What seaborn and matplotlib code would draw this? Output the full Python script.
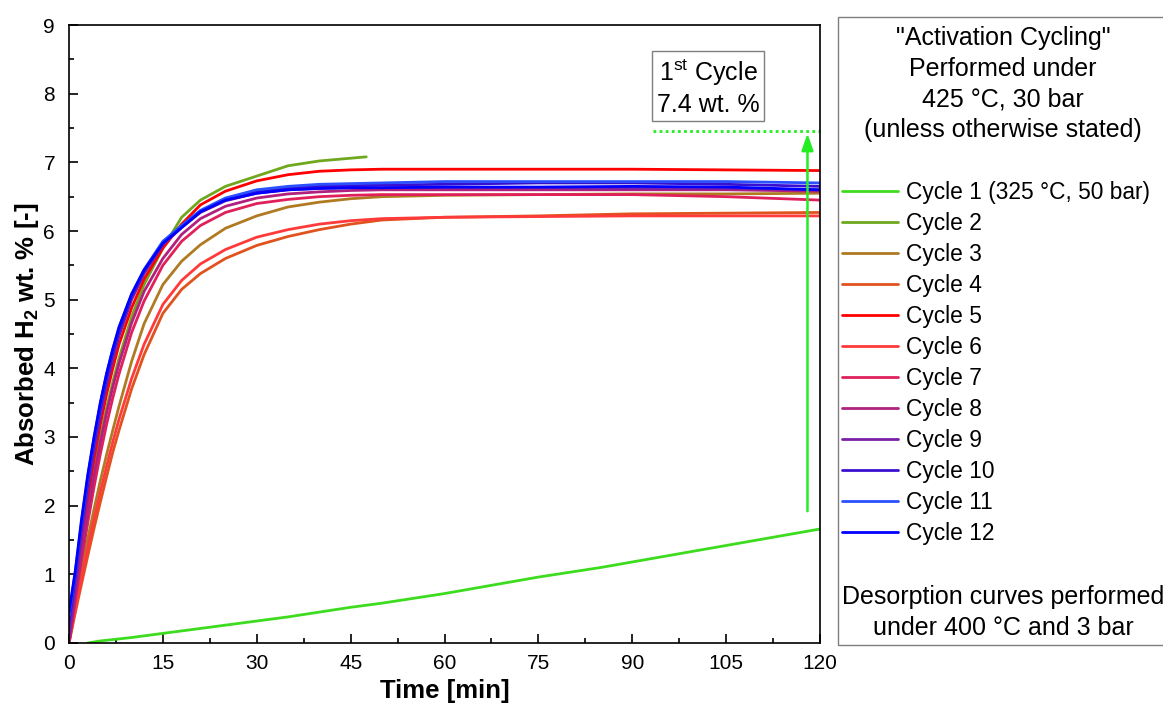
import numpy as np
import pandas as pd
import matplotlib
matplotlib.use("Agg")
import matplotlib.pyplot as plt
from matplotlib.patches import Rectangle
from matplotlib.ticker import MultipleLocator
import seaborn as sns

# ---------------- data ----------------
t_main = [0, 1, 2, 3, 4, 5, 6, 7, 8, 10, 12, 15, 18, 21, 25, 30, 35, 40, 45, 50, 60, 75, 90, 105, 120]

cycle1_t = [3, 5, 10, 15, 20, 25, 30, 35, 40, 45, 50, 55, 60, 65, 70, 75, 80, 85, 90, 95, 100, 105, 110, 115, 120]
cycle1_y = [0.0, 0.03, 0.08, 0.14, 0.2, 0.26, 0.32, 0.38, 0.45, 0.52, 0.58, 0.65, 0.72, 0.8, 0.88, 0.96,
            1.03, 1.1, 1.18, 1.26, 1.34, 1.42, 1.5, 1.58, 1.66]

cycle2_t = [0, 1, 2, 3, 4, 5, 6, 7, 8, 10, 12, 15, 18, 21, 25, 30, 35, 40, 45, 47.5]
cycle2_y = [0, 0.72, 1.38, 1.98, 2.52, 3.0, 3.42, 3.8, 4.15, 4.75, 5.22, 5.75, 6.2, 6.45, 6.65, 6.8,
            6.95, 7.02, 7.06, 7.08]

cycle3_y = [0, 0.55, 1.05, 1.52, 1.95, 2.36, 2.74, 3.1, 3.45, 4.1, 4.65, 5.22, 5.56, 5.8, 6.04, 6.22,
            6.35, 6.42, 6.47, 6.5, 6.52, 6.53, 6.54, 6.54, 6.55]
cycle4_y = [0, 0.44, 0.86, 1.27, 1.67, 2.05, 2.42, 2.78, 3.1, 3.7, 4.2, 4.8, 5.15, 5.38, 5.6, 5.79,
            5.92, 6.02, 6.1, 6.16, 6.2, 6.22, 6.25, 6.26, 6.27]
cycle5_y = [0, 0.76, 1.46, 2.1, 2.68, 3.18, 3.62, 4.0, 4.35, 4.88, 5.3, 5.75, 6.1, 6.38, 6.58, 6.73,
            6.82, 6.87, 6.89, 6.9, 6.9, 6.9, 6.9, 6.89, 6.88]
cycle6_y = [0, 0.48, 0.94, 1.38, 1.8, 2.2, 2.57, 2.93, 3.26, 3.85, 4.35, 4.93, 5.28, 5.52, 5.73, 5.91,
            6.02, 6.1, 6.15, 6.18, 6.2, 6.21, 6.22, 6.22, 6.22]
cycle7_y = [0, 0.62, 1.2, 1.75, 2.27, 2.75, 3.18, 3.57, 3.92, 4.52, 4.98, 5.5, 5.85, 6.08, 6.27, 6.4,
            6.46, 6.5, 6.52, 6.53, 6.53, 6.53, 6.53, 6.5, 6.45]
cycle8_y = [0, 0.68, 1.32, 1.9, 2.44, 2.92, 3.35, 3.73, 4.07, 4.66, 5.12, 5.6, 5.95, 6.18, 6.36, 6.48,
            6.54, 6.57, 6.59, 6.6, 6.6, 6.6, 6.6, 6.6, 6.58]
cycle9_y = [0.1, 0.85, 1.58, 2.22, 2.8, 3.3, 3.75, 4.13, 4.47, 5.0, 5.38, 5.8, 6.05, 6.27, 6.44, 6.55,
            6.6, 6.62, 6.63, 6.63, 6.63, 6.63, 6.62, 6.62, 6.6]
cycle10_y = [0.3, 0.98, 1.7, 2.35, 2.92, 3.42, 3.86, 4.23, 4.55, 5.05, 5.42, 5.83, 6.07, 6.28, 6.46, 6.57,
             6.62, 6.65, 6.66, 6.67, 6.68, 6.7, 6.7, 6.68, 6.65]
cycle11_y = [0.4, 1.02, 1.76, 2.42, 2.98, 3.48, 3.92, 4.28, 4.6, 5.08, 5.44, 5.85, 6.08, 6.3, 6.48, 6.6,
             6.65, 6.68, 6.69, 6.7, 6.72, 6.72, 6.72, 6.72, 6.7]
cycle12_y = [0.45, 1.05, 1.8, 2.45, 3.0, 3.5, 3.92, 4.28, 4.6, 5.08, 5.43, 5.82, 6.05, 6.28, 6.45, 6.55,
             6.6, 6.62, 6.63, 6.63, 6.64, 6.64, 6.65, 6.64, 6.6]

labels = ["Cycle 1 (325 °C, 50 bar)", "Cycle 2", "Cycle 3", "Cycle 4", "Cycle 5", "Cycle 6",
          "Cycle 7", "Cycle 8", "Cycle 9", "Cycle 10", "Cycle 11", "Cycle 12"]
colors = ["#3ddc1e", "#6fa81e", "#b07a22", "#e0521e", "#ff0000", "#ff3a3a",
          "#e0205a", "#b0207e", "#7a1fa8", "#3a10d0", "#2a50ff", "#0000ff"]

series_t = [cycle1_t, cycle2_t] + [t_main] * 10
series_y = [cycle1_y, cycle2_y, cycle3_y, cycle4_y, cycle5_y, cycle6_y, cycle7_y,
            cycle8_y, cycle9_y, cycle10_y, cycle11_y, cycle12_y]

first_cycle_value = 7.45
first_cycle_line_start = 93.3
arrow_x = 118.0
arrow_y0 = 1.92

# ---------------- style ----------------
sns.set_style("ticks")
plt.rcParams["font.family"] = ["Liberation Sans", "DejaVu Sans"]
plt.rcParams["mathtext.fontset"] = "custom"
plt.rcParams["mathtext.rm"] = "Liberation Sans"
plt.rcParams["mathtext.it"] = "Liberation Sans"
plt.rcParams["mathtext.bf"] = "Liberation Sans:bold"
plt.rcParams["mathtext.default"] = "regular"
plt.rcParams["text.color"] = "black"
plt.rcParams["axes.labelcolor"] = "black"
plt.rcParams["xtick.color"] = "black"
plt.rcParams["ytick.color"] = "black"

W, H = 1163, 708
fig = plt.figure(figsize=(W / 100, H / 100), dpi=100)
ax = fig.add_axes([69 / W, 1 - 643 / H, (820 - 69) / W, (643 - 25) / H])

for tt, yy, lab, col in zip(series_t, series_y, labels, colors):
    df = pd.DataFrame({"Time": tt, "wt": yy})
    sns.lineplot(data=df, x="Time", y="wt", color=col, lw=2.0, label=lab, ax=ax,
                 estimator=None, sort=False)

handles, labs = ax.get_legend_handles_labels()
if ax.get_legend() is not None:
    ax.get_legend().remove()

ax.set_xlim(0, 120)
ax.set_ylim(0, 9)
ax.xaxis.set_major_locator(MultipleLocator(15))
ax.xaxis.set_minor_locator(MultipleLocator(7.5))
ax.yaxis.set_major_locator(MultipleLocator(1))
ax.yaxis.set_minor_locator(MultipleLocator(0.5))
ax.tick_params(which="both", direction="in", width=1.2, colors="black", labelcolor="black", labelsize=15)
ax.tick_params(which="major", length=6.5)
ax.tick_params(which="minor", length=3.6)
ax.tick_params(axis="x", pad=8)
ax.tick_params(axis="y", pad=10)
for s in ax.spines.values():
    s.set_visible(True)
    s.set_linewidth(1.2)
    s.set_color("black")

ax.set_xlabel("Time [min]", fontsize=18.5, fontweight="bold", labelpad=4, color="black")
ax.set_ylabel(r"Absorbed H$_\mathbf{2}$ wt. % [-]", fontsize=18.5, fontweight="bold", labelpad=1.5,
              color="black")

# annotation: first cycle reference
ax.plot([first_cycle_line_start, 120], [first_cycle_value, first_cycle_value], ls=(0, (1, 1.2)),
        color="#22ee22", lw=2.0, clip_on=False)
ax.annotate("", xy=(arrow_x, first_cycle_value - 0.03), xytext=(arrow_x, arrow_y0),
            arrowprops=dict(arrowstyle="-|>,head_width=0.35,head_length=1.0", color="#22ee22", lw=1.8,
                            shrinkA=0, shrinkB=0))
ax.text(102.1, 8.10, "1$^{st}$ Cycle\n7.4 wt. %", fontsize=18, ha="center", va="center",
        linespacing=1.25, color="black",
        bbox=dict(boxstyle="square,pad=0.18", fc="white", ec="#7f7f7f", lw=1.0))

# side legend panel
fig.patches.append(Rectangle((838 / W, 1 - 645 / H), 0.4, (645 - 17) / H, transform=fig.transFigure,
                             fill=False, ec="#7f7f7f", lw=1.0, clip_on=False))
fig.text(1003 / W, 1 - 84 / H, "\"Activation Cycling\"\nPerformed under\n425 °C, 30 bar\n(unless otherwise stated)",
         ha="center", va="center", fontsize=18, linespacing=1.36, color="black")
leg = fig.legend(handles, labs, loc="upper left", bbox_to_anchor=(842 / W, 1 - 181 / H),
                 bbox_transform=fig.transFigure, frameon=False, fontsize=16.4,
                 handlelength=2.45, handletextpad=0.36, labelspacing=0.35, borderpad=0, borderaxespad=0)
for txt in leg.get_texts():
    txt.set_color("black")
fig.text(1003 / W, 1 - 612.5 / H, "Desorption curves performed\nunder 400 °C and 3 bar",
         ha="center", va="center", fontsize=18, linespacing=1.33, color="black")

fig.savefig("out.png", dpi=100)
